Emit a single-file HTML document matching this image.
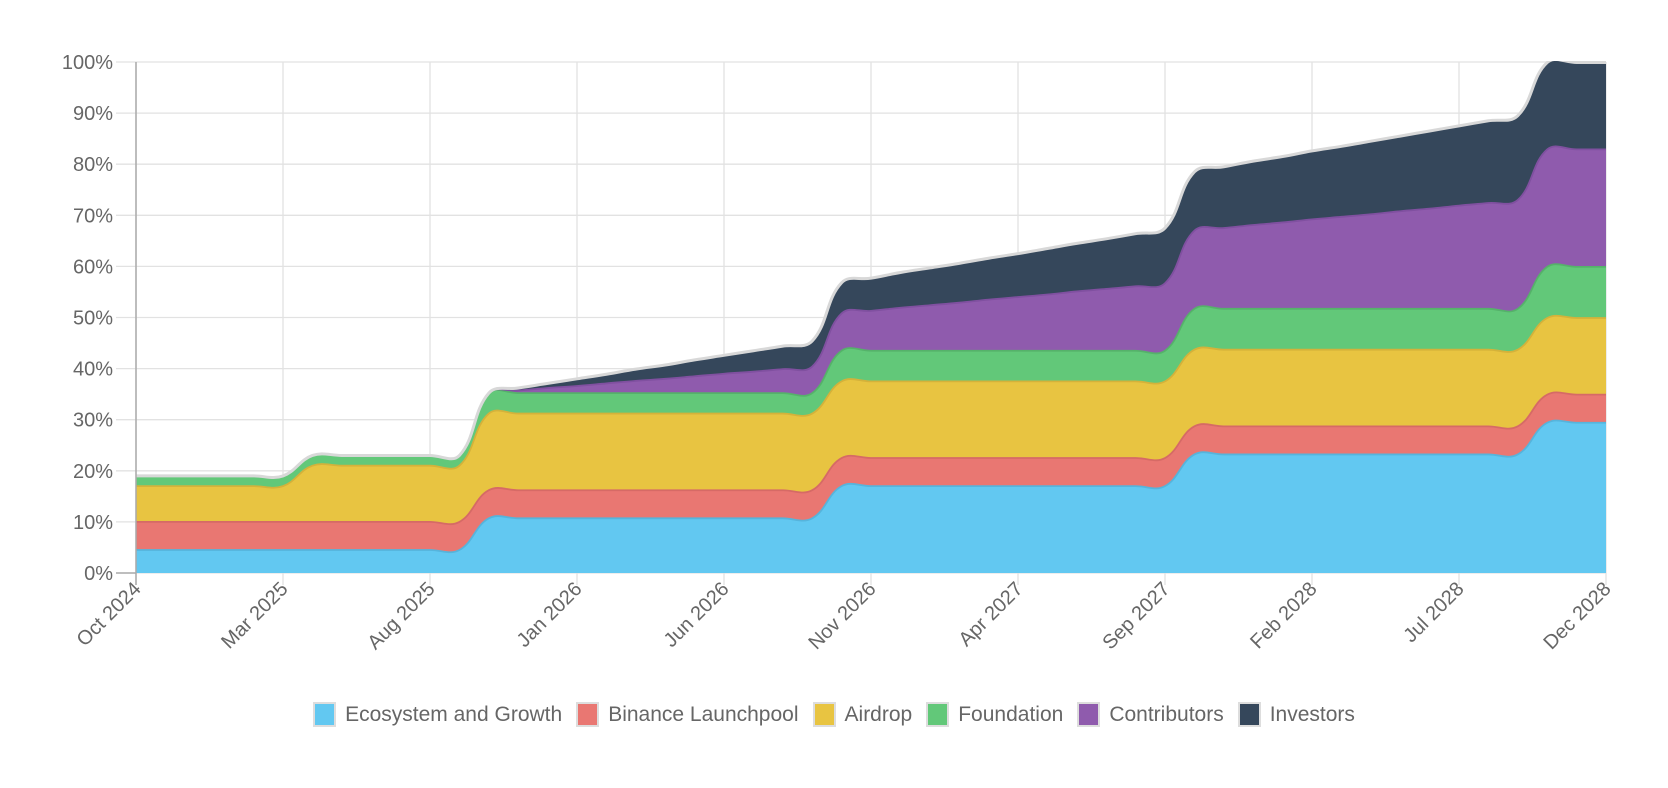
<!DOCTYPE html>
<html><head><meta charset="utf-8"><style>
html,body{margin:0;padding:0;background:#fff;width:1668px;height:788px;overflow:hidden;font-family:"Liberation Sans",Arial,sans-serif}
#legend{position:absolute;left:0;top:702px;width:1668px;display:flex;justify-content:center;gap:0 14px;font-size:21px;color:#666}
.li{display:flex;align-items:center;gap:9px}
.sw{width:19px;height:21px;border:2px solid #ddd;box-sizing:content-box}
</style></head><body>
<svg id="chart" width="1668" height="700" style="position:absolute;left:0;top:0"></svg>
<div id="legend"></div>
<script>
const months = 51;
const xTickLabels = ["Oct 2024","Mar 2025","Aug 2025","Jan 2026","Jun 2026","Nov 2026","Apr 2027","Sep 2027","Feb 2028","Jul 2028","Dec 2028"];
const yTickLabels = ["0%","10%","20%","30%","40%","50%","60%","70%","80%","90%","100%"];
const seriesNames = ["Ecosystem and Growth","Binance Launchpool","Airdrop","Foundation","Contributors","Investors"];
const ecosystem = [4.5,4.5,4.5,4.5,4.5,4.5,4.5,4.5,4.5,4.5,4.5,4.5,10.7,10.7,10.7,10.7,10.7,10.7,10.7,10.7,10.7,10.7,10.7,10.7,17,17,17,17,17,17,17,17,17,17,17,17,23.2,23.2,23.2,23.2,23.2,23.2,23.2,23.2,23.2,23.2,23.2,23.2,29.4,29.4,29.4];
const launchpool = [5.5,5.5,5.5,5.5,5.5,5.5,5.5,5.5,5.5,5.5,5.5,5.5,5.5,5.5,5.5,5.5,5.5,5.5,5.5,5.5,5.5,5.5,5.5,5.5,5.5,5.5,5.5,5.5,5.5,5.5,5.5,5.5,5.5,5.5,5.5,5.5,5.5,5.5,5.5,5.5,5.5,5.5,5.5,5.5,5.5,5.5,5.5,5.5,5.5,5.5,5.5];
const airdrop = [7,7,7,7,7,7,11,11,11,11,11,11,15,15,15,15,15,15,15,15,15,15,15,15,15,15,15,15,15,15,15,15,15,15,15,15,15,15,15,15,15,15,15,15,15,15,15,15,15,15,15];
const foundation = [2,2,2,2,2,2,2,2,2,2,2,2,4,4,4,4,4,4,4,4,4,4,4,4,6,6,6,6,6,6,6,6,6,6,6,6,8,8,8,8,8,8,8,8,8,8,8,8,10,10,10];
const contributors = [0,0,0,0,0,0,0,0,0,0,0,0,0,0.5,1.0,1.4,1.9,2.4,2.8,3.3,3.8,4.2,4.7,5.2,7.3,7.8,8.4,8.9,9.4,10.0,10.5,11.0,11.6,12.1,12.6,13.2,15.3,15.8,16.4,16.9,17.5,18.0,18.5,19.1,19.6,20.2,20.7,21.3,23,23,23];
const investors = [0,0,0,0,0,0,0,0,0,0,0,0,0,0.5,0.9,1.4,1.8,2.3,2.7,3.2,3.6,4.1,4.5,5.0,6.0,6.4,6.9,7.3,7.7,8.1,8.5,9.0,9.4,9.8,10.3,10.8,11.5,12.0,12.5,12.9,13.4,13.8,14.3,14.7,15.2,15.6,16.1,16.5,17,17,17];
const fills = ["#62c8f1","#e97772","#e8c441","#62c879","#8f5bad","#35475b"];
const strokes = ["#56b4dc","#d66a66","#d4b23a","#55b26a","#8050a0","#d8d8d8"];
const series=[ecosystem,launchpool,airdrop,foundation,contributors,investors];
const X0=136,X1=1606,Y0=573,Y1=62;
const xs=i=>X0+(X1-X0)*i/(months-1);
const ys=v=>Y0-(Y0-Y1)*v/100;
const NS="http://www.w3.org/2000/svg";
const svg=document.getElementById('chart');
function mk(t,a,p){const e=document.createElementNS(NS,t);for(const k in a)e.setAttribute(k,a[k]);(p||svg).appendChild(e);return e;}
// grid
for(let i=0;i<yTickLabels.length;i++){const y=ys(i*10);
 const g=mk('line',{x1:116,x2:X1,y1:y,y2:y,stroke:'#e2e2e2','stroke-width':1.3});
 
 const t=mk('text',{x:113,y:y+7,'text-anchor':'end','font-size':20,fill:'#666'});t.textContent=yTickLabels[i];
 }
for(let i=0;i<xTickLabels.length;i++){const x=xs(i*5);
 const g=mk('line',{x1:x,x2:x,y1:Y1,y2:Y0+12,stroke:'#e2e2e2','stroke-width':1.3});
 
 const t=mk('text',{x:0,y:0,'text-anchor':'end','font-size':20,fill:'#666',transform:`translate(${x+6},${Y0+17}) rotate(-45)`});t.textContent=xTickLabels[i];
 }
// stacks
const cum=[];let prev=new Array(months).fill(0);
series.forEach(s=>{const c=s.map((v,i)=>prev[i]+v);cum.push(c);prev=c;});
function pts(c){return c.map((v,i)=>[xs(i),ys(v)]);}
function spline(p){const t=0.4;const cps=[];
 for(let i=0;i<p.length;i++){const pr=p[Math.max(0,i-1)],cu=p[i],nx=p[Math.min(p.length-1,i+1)];
  const d01=Math.hypot(cu[0]-pr[0],cu[1]-pr[1]),d12=Math.hypot(nx[0]-cu[0],nx[1]-cu[1]);
  let s01=d01/(d01+d12||1),s12=d12/(d01+d12||1);const fa=t*s01,fb=t*s12;
  cps.push([[cu[0]-fa*(nx[0]-pr[0]),cu[1]-fa*(nx[1]-pr[1])],[cu[0]+fb*(nx[0]-pr[0]),cu[1]+fb*(nx[1]-pr[1])]]);}
 return cps;}
function pathFwd(p,start){const c=spline(p);let d=(start?'M':'L')+p[0][0]+','+p[0][1];
 for(let i=1;i<p.length;i++){d+=`C${c[i-1][1][0]},${c[i-1][1][1]} ${c[i][0][0]},${c[i][0][1]} ${p[i][0]},${p[i][1]}`;}return d;}
function pathRev(p){const r=p.slice().reverse();const c=spline(r);let d='L'+r[0][0]+','+r[0][1];
 for(let i=1;i<r.length;i++){d+=`C${c[i-1][1][0]},${c[i-1][1][1]} ${c[i][0][0]},${c[i][0][1]} ${r[i][0]},${r[i][1]}`;}return d;}
const clip=mk('clipPath',{id:'pc'});mk('rect',{x:X0,y:Y1-1,width:X1-X0,height:Y0-Y1+1},clip);
const g=mk('g',{'clip-path':'url(#pc)'});
cum.forEach((c,k)=>{const up=pts(c);const lo=k?pts(cum[k-1]):up.map(q=>[q[0],Y0]);
 const a=mk('path',{d:pathFwd(up,true)+pathRev(lo)+'Z',fill:fills[k]},g);
 
 });
cum.forEach((c,k)=>{const l=mk('path',{d:pathFwd(pts(c),true),fill:'none',stroke:strokes[k],'stroke-width':k==5?3:1.8},g);
 
 });
const ax=mk('line',{x1:X0,x2:X0,y1:Y1,y2:Y0+12,stroke:'#aaa','stroke-width':1.5});

const bx=mk('line',{x1:116,x2:X0,y1:Y0,y2:Y0,stroke:'#aaa','stroke-width':1.5});

// legend
const lg=document.getElementById('legend');
seriesNames.forEach((n,k)=>{const it=document.createElement('div');it.className='li';
 
 
 const sw=document.createElement('span');sw.className='sw';sw.style.background=fills[k];
 
 
 const tx=document.createElement('span');tx.textContent=n;
 
 
 it.appendChild(sw);it.appendChild(tx);lg.appendChild(it);});
</script>
</body></html>
